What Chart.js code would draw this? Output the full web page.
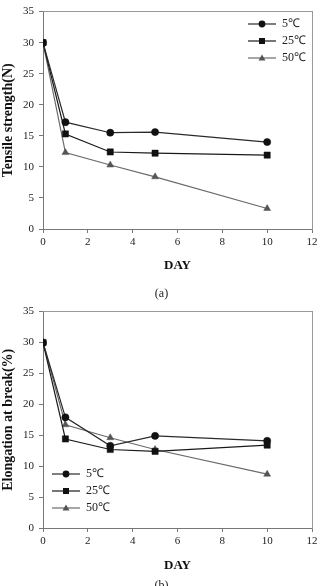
<!DOCTYPE html>
<html><head><meta charset="utf-8">
<script src="https://cdn.jsdelivr.net/npm/chart.js@4/dist/chart.umd.min.js"></script>
<style>
html,body{margin:0;padding:0;background:#fff;width:323px;height:586px;overflow:hidden;}
.wrap{position:absolute;left:0;width:323px;}
.cap{position:absolute;left:0;width:323px;text-align:center;font:12px "Liberation Serif",serif;color:#222;}
</style></head>
<body>
<div class="wrap" style="top:0;height:290px"><canvas id="c1" width="323" height="290"></canvas></div>
<div class="cap" style="top:286px">(a)</div>
<div class="wrap" style="top:300px;height:286px"><canvas id="c2" width="323" height="286"></canvas></div>
<div class="cap" style="top:578px">(b)</div>
<script>
const days = [0, 1, 3, 5, 10];
const seriesNames = ['5\u2103', '25\u2103', '50\u2103'];
const xTicks = [0, 2, 4, 6, 8, 10, 12];
const yTicks = [0, 5, 10, 15, 20, 25, 30, 35];
const tensile5 = [30, 17.2, 15.5, 15.6, 14.0];
const tensile25 = [30, 15.3, 12.4, 12.2, 11.9];
const tensile50 = [30, 12.3, 10.3, 8.4, 3.3];
const elong5 = [30, 17.9, 13.3, 14.9, 14.1];
const elong25 = [30, 14.4, 12.7, 12.4, 13.4];
const elong50 = [30, 16.7, 14.6, 12.7, 8.7];

const SERIF = '"Liberation Serif", "Times New Roman", serif';
const styles = [
  {shape: 'circle', r: 3.6, line: '#2a2a2a', fill: '#111'},
  {shape: 'rect', r: 4.4, line: '#1a1a1a', fill: '#111'},
  {shape: 'triangle', r: 4.0, line: '#6a6a6a', fill: '#555'}
];

function legendImage(st) {
  const c = document.createElement('canvas');
  c.width = 28; c.height = 10;
  const g = c.getContext('2d');
  g.strokeStyle = st.line; g.lineWidth = 1.2;
  g.beginPath(); g.moveTo(0, 5); g.lineTo(28, 5); g.stroke();
  g.fillStyle = st.fill;
  g.beginPath();
  if (st.shape === 'circle') { g.arc(14, 5, 3.4, 0, Math.PI * 2); }
  else if (st.shape === 'rect') { g.rect(11, 2, 6, 6); }
  else { g.moveTo(14, 1.5); g.lineTo(17.5, 7.5); g.lineTo(10.5, 7.5); g.closePath(); }
  g.fill();
  return c;
}
const legendImgs = styles.map(legendImage);

function makeDatasets(arrs) {
  return arrs.map((vals, i) => ({
    label: seriesNames[i],
    data: days.map((d, k) => ({x: d, y: vals[k]})),
    borderColor: styles[i].line,
    backgroundColor: styles[i].fill,
    borderWidth: 1.2,
    pointStyle: styles[i].shape,
    pointRadius: styles[i].r,
    pointBackgroundColor: styles[i].fill,
    pointBorderColor: styles[i].fill,
    pointBorderWidth: 0.5,
    tension: 0,
    fill: false
  }));
}

const legendPlace = {
  id: 'legendPlace',
  afterLayout(chart, args, opts) {
    const lg = chart.legend;
    if (!lg) return;
    const w = lg.width, h = lg.height;
    lg.left = opts.left; lg.top = opts.top;
    lg.right = opts.left + w; lg.bottom = opts.top + h;
  }
};

function makeChart(id, arrs, yTitle, pad, xH, legendPos) {
  return new Chart(document.getElementById(id), {
    type: 'line',
    data: {datasets: makeDatasets(arrs)},
    plugins: [legendPlace],
    options: {
      responsive: false,
      animation: false,
      events: [],
      layout: {padding: pad},
      plugins: {
        legendPlace: legendPos,
        tooltip: {enabled: false},
        legend: {
          display: true,
          position: 'chartArea',
          align: 'start',
          labels: {
            usePointStyle: true,
            pointStyleWidth: 28,
            padding: 5,
            color: '#222',
            font: {family: SERIF, size: 12},
            generateLabels(chart) {
              const items = Chart.defaults.plugins.legend.labels.generateLabels(chart);
              items.forEach((it, i) => { it.pointStyle = legendImgs[i]; });
              return items;
            }
          }
        }
      },
      scales: {
        x: {
          type: 'linear', min: 0, max: 12,
          afterBuildTicks(s) { s.ticks = xTicks.map(v => ({value: v})); },
          afterFit(s) { s.height = xH; },
          ticks: {color: '#222', font: {family: SERIF, size: 11}, padding: 3},
          grid: {display: true, drawOnChartArea: false, drawTicks: true, tickLength: 4, color: '#777'},
          border: {color: '#777', width: 1},
          title: {display: true, text: 'DAY', color: '#111', font: {family: SERIF, size: 13, weight: 'bold'}, padding: 0}
        },
        y: {
          type: 'linear', min: 0, max: 35,
          afterBuildTicks(s) { s.ticks = yTicks.map(v => ({value: v})); },
          afterFit(s) { s.width = 43; },
          ticks: {color: '#222', font: {family: SERIF, size: 11}, padding: 5},
          grid: {display: true, drawOnChartArea: false, drawTicks: true, tickLength: 4, color: '#777'},
          border: {color: '#777', width: 1},
          title: {display: true, text: yTitle, color: '#111', font: {family: SERIF, size: 14, weight: 'bold'}, padding: 0}
        },
        x2: {
          type: 'linear', position: 'top', display: true,
          afterFit(s) { s.height = 0; },
          ticks: {display: false}, grid: {display: false},
          border: {color: '#999', width: 1}
        },
        y2: {
          type: 'linear', position: 'right', display: true,
          afterFit(s) { s.width = 0; },
          ticks: {display: false}, grid: {display: false},
          border: {color: '#999', width: 1}
        }
      }
    }
  });
}

makeChart('c1', [tensile5, tensile25, tensile50], 'Tensile strength(N)',
  {top: 3, left: 0, right: 11, bottom: 17}, 44, {left: 243, top: 13});
makeChart('c2', [elong5, elong25, elong50], 'Elongation at break(%)',
  {top: 7, left: 0, right: 11, bottom: 13}, 45, {left: 47, top: 163});
</script>
</body></html>
